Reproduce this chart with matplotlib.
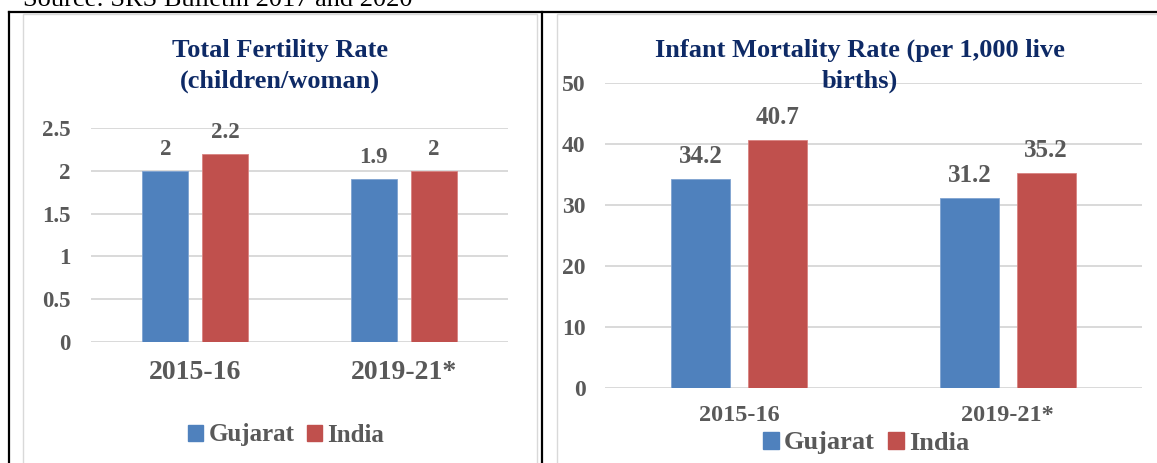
import numpy as np
import matplotlib.pyplot as plt
from matplotlib.lines import Line2D
from matplotlib.patches import Rectangle, Patch

# Daten
periods = ['2015-16', '2019-21*']
series = ['Gujarat', 'India']
tfr_gujarat = [2.0, 1.9]
tfr_india = [2.2, 2.0]
imr_gujarat = [34.2, 31.2]
imr_india = [40.7, 35.2]
tfr_labels = [['2', '1.9'], ['2.2', '2']]
imr_labels = [['34.2', '31.2'], ['40.7', '35.2']]

blue = '#4F81BD'
red = '#C0504D'
grau = '#595959'
navy = '#0E2A66'
grid = '#D9D9D9'

W, H = 1157, 463
plt.rcParams['font.family'] = ['Liberation Serif', 'DejaVu Serif']
plt.rcParams['font.weight'] = 'bold'

fig = plt.figure(figsize=(W / 100, H / 100), dpi=100)


def fx(x):
    return x / W


def fy(y):
    return 1 - y / H


# Tabellenrahmen und Quelle (oben abgeschnitten wie im Original)
fig.text(fx(23), fy(6), 'Source: SRS Bulletin 2017 and 2020', fontsize=19,
         fontweight='normal', color='black', va='baseline', ha='left')
for xs, ys in [([9, W], [12, 12]), ([9, 9], [12, H]), ([542, 542], [12, H])]:
    fig.add_artist(Line2D([fx(x) for x in xs], [fy(y) for y in ys],
                          color='black', lw=1.6, transform=fig.transFigure))
# graue Diagrammrahmen
for x0, x1 in [(23, 537), (557, W + 5)]:
    fig.add_artist(Rectangle((fx(x0), fy(H + 5)), fx(x1 - x0), fy(14) - fy(H + 5),
                             fill=False, ec=grid, lw=1.0, transform=fig.transFigure))


def bar_panel(rect, guj, ind, labels, ymax, step, fs_y, fs_x, fs_lab, pad_y, pad_x):
    ax = fig.add_axes(rect)
    x = np.arange(len(periods))
    w = 0.22
    off = 0.143
    ax.bar(x - off, guj, w, color=blue, edgecolor='#7FA3D1', lw=0.6, zorder=3)
    ax.bar(x + off, ind, w, color=red, edgecolor='#D98380', lw=0.6, zorder=3)
    for i in range(len(periods)):
        ax.annotate(labels[0][i], (x[i] - off, guj[i]), xytext=(0, 11.5),
                    textcoords='offset points', ha='center', va='baseline',
                    fontsize=fs_lab, color=grau, fontweight='bold')
        ax.annotate(labels[1][i], (x[i] + off, ind[i]), xytext=(0, 11.5),
                    textcoords='offset points', ha='center', va='baseline',
                    fontsize=fs_lab, color=grau, fontweight='bold')
    ax.set_xlim(-0.5, 1.5)
    ax.set_ylim(0, ymax)
    ax.set_yticks(np.arange(0, ymax + step / 2, step))
    ax.yaxis.set_major_formatter(lambda v, p: f'{v:g}')
    ax.set_xticks(x)
    ax.set_xticklabels(periods)
    ax.grid(axis='y', color=grid, lw=1.4, zorder=0)
    ax.set_axisbelow(True)
    for s in ax.spines.values():
        s.set_visible(False)
    ax.tick_params(axis='y', length=0, pad=pad_y, labelsize=fs_y, labelcolor=grau)
    ax.tick_params(axis='x', length=0, pad=pad_x, labelsize=fs_x, labelcolor=grau)
    for t in ax.get_xticklabels() + ax.get_yticklabels():
        t.set_fontweight('bold')
    return ax


ax1 = bar_panel([fx(91), fy(342), fx(508 - 91), fy(128) - fy(342)],
                tfr_gujarat, tfr_india, tfr_labels, 2.5, 0.5,
                16.5, 20, 16.5, 15, 13)
ax2 = bar_panel([fx(605), fy(388), fx(1142 - 605), fy(83) - fy(388)],
                imr_gujarat, imr_india, imr_labels, 50, 10,
                17, 17.5, 18, 14, 12)

fig.text(fx(280), fy(66), 'Total Fertility Rate\n(children/woman)', ha='center',
         va='center', fontsize=19, color=navy, fontweight='bold', linespacing=1.45)
fig.text(fx(860), fy(66), 'Infant Mortality Rate (per 1,000 live\nbirths)',
         ha='center', va='center', fontsize=19, color=navy, fontweight='bold',
         linespacing=1.45)

handles = [Patch(color=blue), Patch(color=red)]
for cx, cy, fs in [(286, 435, 18), (866, 443, 19)]:
    fig.legend(handles, series, loc='center', bbox_to_anchor=(fx(cx), fy(cy)),
               ncol=2, frameon=False, labelcolor=grau,
               handlelength=0.6, handleheight=0.6, handletextpad=0.2,
               columnspacing=0.5, borderpad=0, prop={'weight': 'bold', 'size': fs})

fig.savefig('out.png', dpi=100)
